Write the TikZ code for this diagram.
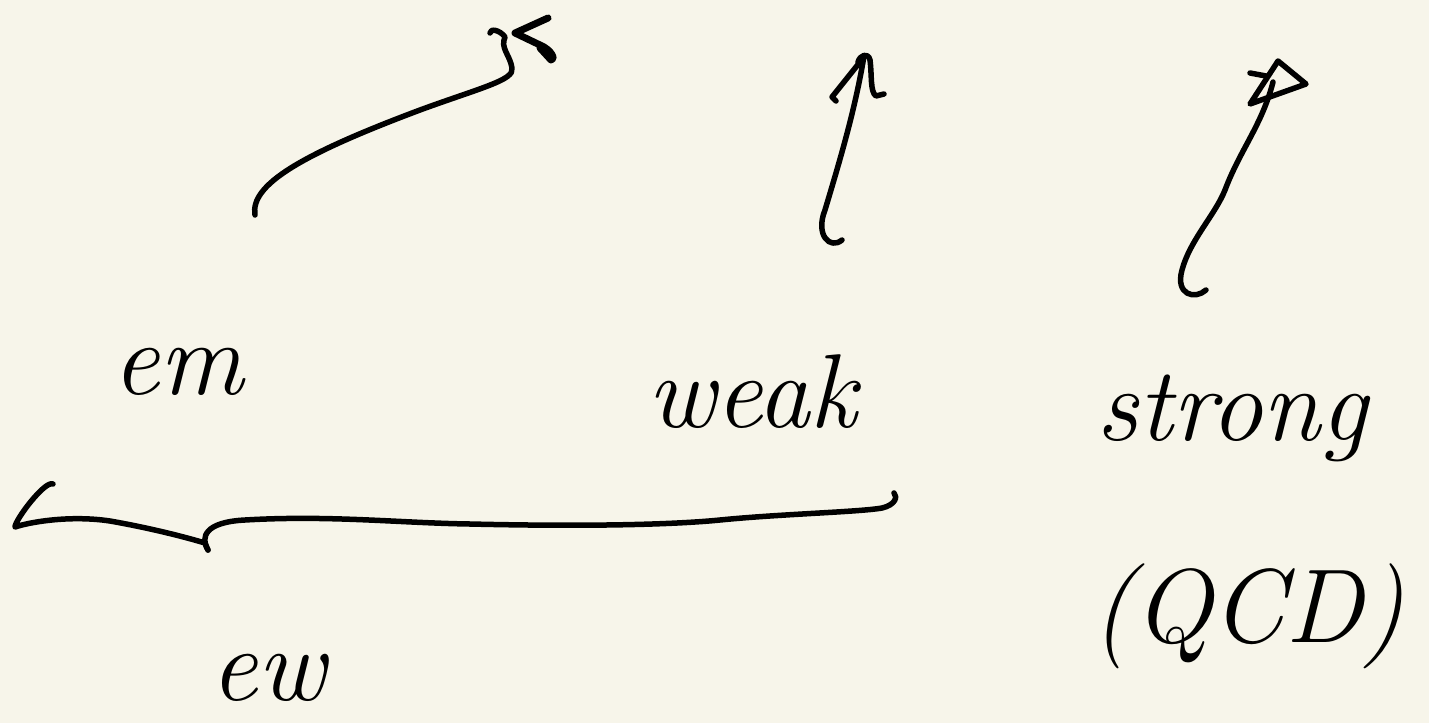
\documentclass[tikz,border=0pt]{standalone}
\usetikzlibrary{arrows.meta}
\definecolor{paper}{HTML}{F7F5EA}
\definecolor{ink}{HTML}{000000}
\begin{document}
\begin{tikzpicture}[x=1pt,y=-1pt,
  pen/.style={draw=ink,line width=5.5pt,line cap=round,line join=round},
  hand/.style={font=\fontsize{105}{110}\selectfont\itshape,text=ink,inner sep=0pt}]
\fill[paper] (0,0) rectangle (1429,723);
\useasboundingbox (0,0) rectangle (1429,723);
% labels
\node[hand] (em) at (178,372) {em};
\node[hand] (weak) at (752,392) {weak};
\node[hand] (strong) at (1232,418) {strong};
\node[hand] (qcd) at (1248,616) {(QCD)};
\node[hand] (ew) at (268,678) {ew};
% arrow 1
\coordinate (a1s) at (255,215);
\coordinate (a1e) at (505,37);
\draw[pen] (a1s) .. controls (250,185) and (300,155) .. (420,110)
  .. controls (480,88) and (515,80) .. (512,68)
  .. controls (510,55) and (500,48) .. (a1e)
  .. controls (500,30) and (490,28) .. (490,33);
\draw[pen,line width=7pt] (548,18) -- (515,33) -- (540,45) .. controls (552,50) and (556,60) .. (551,60) -- (540,48);
% arrow 2
\coordinate (a2s) at (842,240);
\coordinate (a2e) at (864,56);
\draw[pen] (a2s) .. controls (830,250) and (815,235) .. (825,210)
  .. controls (840,160) and (855,110) .. (a2e);
\draw[pen] (858,62) .. controls (860,55) and (868,52) .. (870,60)
  .. controls (872,75) and (870,92) .. (876,96) -- (884,94);
\draw[pen] (860,62) -- (832,97) -- (836,101);
% arrow 3
\coordinate (a3s) at (1206,290);
\coordinate (a3e) at (1273,82);
\draw[pen] (a3s) .. controls (1195,300) and (1175,295) .. (1182,270)
  .. controls (1190,240) and (1215,215) .. (1225,190)
  .. controls (1240,150) and (1262,125) .. (a3e);
\draw[pen] (1278,61) -- (1306,84) -- (1250,104) -- cycle;
\draw[pen] (1250,73) -- (1266,76);
% brace
\coordinate (bl) at (53,484);
\coordinate (tip) at (208,550);
\coordinate (br) at (894,493);
\draw[pen] (bl) .. controls (45,480) and (15,520) .. (15,527)
  .. controls (30,522) and (70,515) .. (110,521)
  .. controls (150,528) and (185,537) .. (205,543) -- (tip);
\draw[pen] (tip) .. controls (200,537) and (205,522) .. (245,520)
  .. controls (330,515) and (400,523) .. (470,524)
  .. controls (600,527) and (680,524) .. (720,520)
  .. controls (780,514) and (860,512) .. (882,508)
  .. controls (895,505) and (898,497) .. (br);
\end{tikzpicture}
\end{document}
